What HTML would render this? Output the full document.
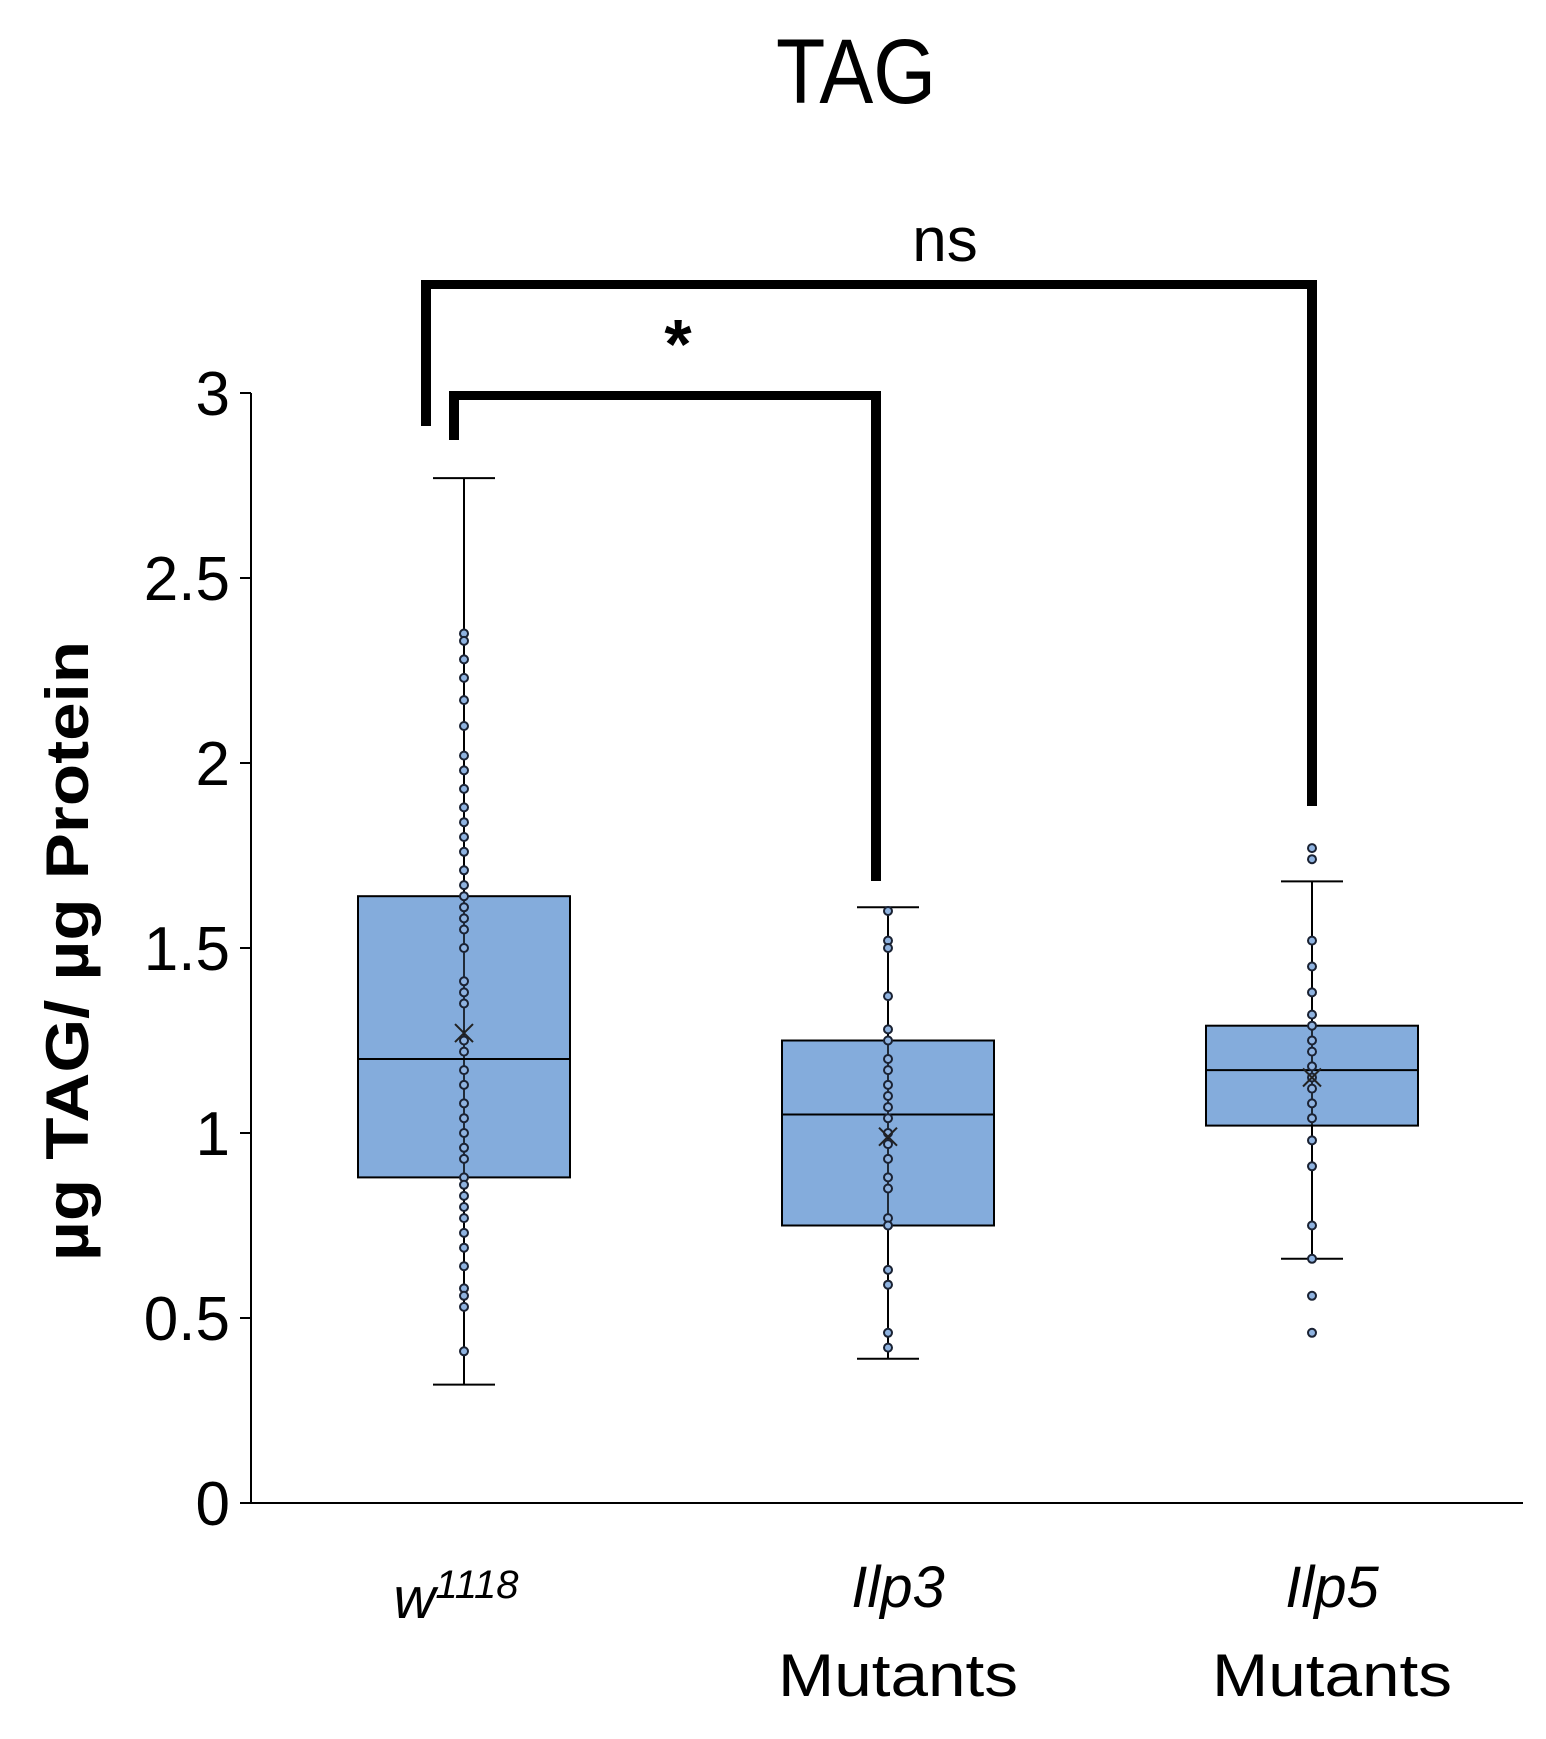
<!DOCTYPE html>
<html><head><meta charset="utf-8"><style>
html,body{margin:0;padding:0;background:#fff;width:1546px;height:1739px;overflow:hidden}
text{font-family:"Liberation Sans",sans-serif}
</style></head><body>
<svg id="c" width="1546" height="1739" viewBox="0 0 1546 1739">
<text x="856" y="103" font-size="92" text-anchor="middle" textLength="160" lengthAdjust="spacingAndGlyphs">TAG</text>
<text transform="translate(88,951) rotate(-90)" font-size="60" font-weight="bold" text-anchor="middle" textLength="620" lengthAdjust="spacingAndGlyphs">µg TAG/ µg Protein</text>
<g id="axes"></g><g id="boxes"></g>
<g fill="#000">
<rect x="421" y="280" width="896" height="9"/><rect x="421" y="280" width="10" height="146"/><rect x="1307" y="280" width="10" height="526"/>
</g>
<text x="945" y="261" font-size="62" text-anchor="middle">ns</text>
<g fill="#000">
<rect x="449" y="391" width="432" height="9"/><rect x="449" y="391" width="10" height="49"/><rect x="871" y="391" width="10" height="490"/>
</g>
<text x="678" y="368" font-size="70" font-weight="bold" text-anchor="middle">*</text>
<text x="456" y="1618" font-size="58" font-style="italic" text-anchor="middle">w<tspan font-size="40" dy="-20">1118</tspan></text>
<text x="898" y="1607" font-size="58" font-style="italic" text-anchor="middle">Ilp3</text>
<text x="898" y="1696" font-size="60" text-anchor="middle" textLength="240" lengthAdjust="spacingAndGlyphs">Mutants</text>
<text x="1332" y="1607" font-size="58" font-style="italic" text-anchor="middle">Ilp5</text>
<text x="1332" y="1696" font-size="60" text-anchor="middle" textLength="240" lengthAdjust="spacingAndGlyphs">Mutants</text>
</svg>
<script>
const categories=["w1118","Ilp3","Ilp5"];
const q1=[0.88,0.75,1.02];
const q3=[1.64,1.25,1.29];
const medians=[1.20,1.05,1.17];
const means=[1.27,0.99,1.15];
const whiskLo=[0.32,0.39,0.66];
const whiskHi=[2.77,1.61,1.68];
const pointsW=[2.35,2.33,2.28,2.23,2.17,2.10,2.02,1.98,1.93,1.88,1.84,1.80,1.76,1.71,1.67,1.64,1.61,1.58,1.55,1.50,1.41,1.38,1.35,1.25,1.22,1.17,1.13,1.08,1.04,1.00,0.96,0.93,0.88,0.86,0.83,0.80,0.77,0.73,0.69,0.64,0.58,0.56,0.53,0.41];
const pointsIlp3=[1.60,1.52,1.50,1.37,1.28,1.25,1.20,1.17,1.13,1.10,1.07,1.04,1.00,0.97,0.93,0.88,0.85,0.77,0.75,0.63,0.59,0.46,0.42];
const pointsIlp5=[1.77,1.74,1.52,1.45,1.38,1.32,1.29,1.25,1.22,1.18,1.15,1.12,1.08,1.04,0.98,0.91,0.75,0.66,0.56,0.46];
const yTicks=[0,0.5,1,1.5,2,2.5,3];
const tickLabels=["0","0.5","1","1.5","2","2.5","3"];
const allPoints=[pointsW,pointsIlp3,pointsIlp5];

const NS="http://www.w3.org/2000/svg";
const y=v=>1503-v*370;
const x=i=>464+i*424;
function mk(tag,attrs,parent){const e=document.createElementNS(NS,tag);for(const k in attrs)e.setAttribute(k,attrs[k]);parent.appendChild(e);return e;}
const ax=document.getElementById('axes');
let a=mk('line',{x1:251,y1:y(3),x2:251,y2:y(0)+1,stroke:'#000','stroke-width':2},ax);


a=mk('line',{x1:250,y1:y(0),x2:1523,y2:y(0),stroke:'#000','stroke-width':2},ax);


yTicks.forEach((t,i)=>{
  const tk=mk('line',{x1:240,y1:y(t),x2:251,y2:y(t),stroke:'#000','stroke-width':2},ax);
  
  
  const lb=mk('text',{x:230,y:y(t)+22,'font-size':62,'text-anchor':'end'},ax);
  lb.textContent=tickLabels[i];
  
  
});
const bx=document.getElementById('boxes');
categories.forEach((c,i)=>{
  const cx=x(i);
  const g=mk('g',{},bx);
  
  
  mk('line',{x1:cx,y1:y(whiskHi[i]),x2:cx,y2:y(whiskLo[i]),stroke:'#000','stroke-width':2},g);
  mk('line',{x1:cx-31,y1:y(whiskHi[i]),x2:cx+31,y2:y(whiskHi[i]),stroke:'#000','stroke-width':2},g);
  mk('line',{x1:cx-31,y1:y(whiskLo[i]),x2:cx+31,y2:y(whiskLo[i]),stroke:'#000','stroke-width':2},g);
  mk('rect',{x:cx-106,y:y(q3[i]),width:212,height:y(q1[i])-y(q3[i]),fill:'#84acdc',stroke:'#000','stroke-width':2},g);
  mk('line',{x1:cx,y1:y(q3[i]),x2:cx,y2:y(q1[i]),stroke:'#000','stroke-width':1.5},g);
  mk('line',{x1:cx-106,y1:y(medians[i]),x2:cx+106,y2:y(medians[i]),stroke:'#000','stroke-width':2},g);
  allPoints[i].forEach(v=>{
    const p=mk('circle',{cx:cx,cy:y(v),r:4,fill:'#8fb3e0',stroke:'#1a2233','stroke-width':2},g);
    
    
  });
  const m=y(means[i]);
  const mm=mk('path',{d:`M${cx-9} ${m-9}L${cx+9} ${m+9}M${cx+9} ${m-9}L${cx-9} ${m+9}`,stroke:'#222','stroke-width':2},g);
  
  
});
</script>
</body></html>
